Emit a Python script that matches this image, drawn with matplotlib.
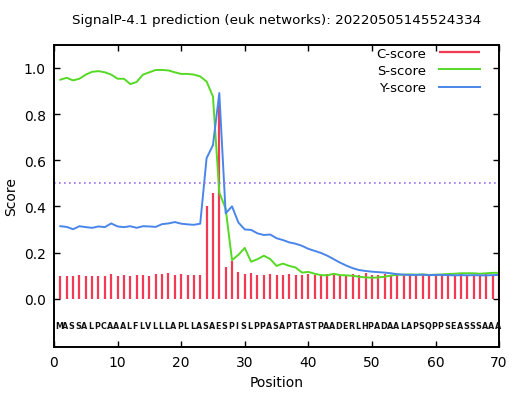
import numpy as np
import matplotlib.pyplot as plt

seq = "MASSALPCAAALFLVLLLAPLLASAESPISLPPASAPTASTPAADERLHPADAALAPSQPPSEASSSAAA"
pos = np.arange(1, len(seq) + 1)

c_score = [0.100, 0.100, 0.100, 0.103, 0.100, 0.100, 0.100, 0.100, 0.107, 0.100,
           0.102, 0.098, 0.102, 0.102, 0.100, 0.107, 0.107, 0.110, 0.104, 0.105,
           0.104, 0.104, 0.104, 0.400, 0.460, 0.840, 0.138, 0.165, 0.115, 0.105,
           0.110, 0.101, 0.101, 0.108, 0.101, 0.104, 0.105, 0.103, 0.102, 0.106,
           0.104, 0.102, 0.105, 0.103, 0.101, 0.104, 0.106, 0.103, 0.110, 0.104,
           0.102, 0.105, 0.103, 0.104, 0.101, 0.103, 0.104, 0.102, 0.105, 0.103,
           0.104, 0.102, 0.103, 0.105, 0.102, 0.104, 0.103, 0.105, 0.104, 0.103]

s_score = [0.949, 0.957, 0.946, 0.953, 0.971, 0.983, 0.986, 0.981, 0.971, 0.953,
           0.953, 0.930, 0.939, 0.971, 0.981, 0.991, 0.991, 0.989, 0.981, 0.974,
           0.974, 0.971, 0.963, 0.941, 0.876, 0.460, 0.390, 0.167, 0.190, 0.220,
           0.160, 0.171, 0.186, 0.172, 0.142, 0.152, 0.142, 0.135, 0.113, 0.116,
           0.108, 0.102, 0.101, 0.108, 0.102, 0.101, 0.099, 0.095, 0.092, 0.091,
           0.092, 0.095, 0.100, 0.104, 0.104, 0.105, 0.104, 0.105, 0.103, 0.104,
           0.105, 0.107, 0.108, 0.110, 0.110, 0.110, 0.108, 0.110, 0.112, 0.112]

y_score = [0.314, 0.311, 0.301, 0.314, 0.310, 0.307, 0.313, 0.310, 0.326, 0.313,
           0.310, 0.314, 0.307, 0.314, 0.313, 0.311, 0.323, 0.326, 0.332, 0.325,
           0.322, 0.320, 0.325, 0.609, 0.665, 0.891, 0.370, 0.400, 0.330, 0.300,
           0.298, 0.283, 0.276, 0.278, 0.262, 0.254, 0.244, 0.238, 0.229, 0.216,
           0.207, 0.198, 0.186, 0.171, 0.156, 0.143, 0.132, 0.124, 0.120, 0.117,
           0.115, 0.113, 0.110, 0.106, 0.104, 0.103, 0.103, 0.104, 0.102, 0.103,
           0.103, 0.102, 0.101, 0.102, 0.101, 0.102, 0.101, 0.101, 0.102, 0.103]

cutoff = 0.5

fig = plt.figure(figsize=(5.14, 4.02), dpi=100)
ax = fig.add_axes([0.105, 0.134, 0.866, 0.752])

ax.vlines(pos, 0, c_score, color='#f23a55', lw=1.6, label='C-score')
ax.plot(pos, s_score, color='#55d925', lw=1.4, label='S-score')
ax.plot(pos, y_score, color='#4a86ea', lw=1.4, label='Y-score')
ax.axhline(cutoff, color='#9a6ef0', lw=1.2, ls=(0, (1, 2)))

for p, aa in zip(pos, seq):
    ax.text(p - 0.2, -0.118, aa, ha='center', va='center', fontsize=5.8,
            fontweight='bold', color='#111111')

ax.set_xlim(0, 70)
ax.set_ylim(-0.21, 1.10)
ax.set_xticks(range(0, 71, 10))
ax.set_yticks(np.arange(0, 1.01, 0.2))
ax.set_yticklabels(['0.0', '0.2', '0.4', '0.6', '0.8', '1.0'])
ax.tick_params(direction='in', top=True, right=True, length=4, width=1,
               labelsize=10, pad=6)
for sp in ax.spines.values():
    sp.set_linewidth(1.4)

ax.set_xlabel('Position', fontsize=10)
ax.set_ylabel('Score', fontsize=10)
ax.set_title('SignalP-4.1 prediction (euk networks): 20220505145524334',
             fontsize=9.7, pad=16)

ax.legend(loc='upper right', frameon=False, markerfirst=False, fontsize=9.5,
          handlelength=3.1, labelspacing=0.32, borderaxespad=0.2,
          handletextpad=1.0, bbox_to_anchor=(0.975, 1.02))

fig.savefig('out.png', dpi=100)
